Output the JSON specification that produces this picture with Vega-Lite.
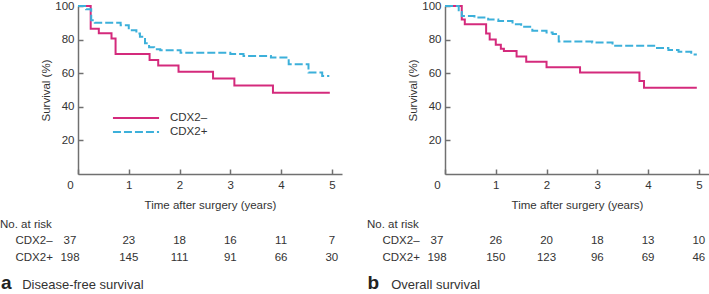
{
  "$schema": "https://vega.github.io/schema/vega-lite/v6.json",
  "padding": 0,
  "background": "white",
  "datasets": {
    "dfs": [
      {"group": "CDX2–", "t": 0, "s": 100}, {"group": "CDX2–", "t": 0.25, "s": 86.5}, {"group": "CDX2–", "t": 0.41, "s": 83.8},
      {"group": "CDX2–", "t": 0.66, "s": 80.6}, {"group": "CDX2–", "t": 0.74, "s": 71.5}, {"group": "CDX2–", "t": 1.41, "s": 67.8},
      {"group": "CDX2–", "t": 1.58, "s": 64.6}, {"group": "CDX2–", "t": 1.98, "s": 60.8}, {"group": "CDX2–", "t": 2.66, "s": 56.8},
      {"group": "CDX2–", "t": 3.08, "s": 52.7}, {"group": "CDX2–", "t": 3.84, "s": 48.4}, {"group": "CDX2–", "t": 4.96, "s": 48.4},
      {"group": "CDX2+", "t": 0, "s": 100}, {"group": "CDX2+", "t": 0.16, "s": 98}, {"group": "CDX2+", "t": 0.26, "s": 91.5},
      {"group": "CDX2+", "t": 0.33, "s": 90}, {"group": "CDX2+", "t": 0.84, "s": 88.6}, {"group": "CDX2+", "t": 1.0, "s": 85.6},
      {"group": "CDX2+", "t": 1.15, "s": 83.6}, {"group": "CDX2+", "t": 1.22, "s": 81.7}, {"group": "CDX2+", "t": 1.32, "s": 77.8},
      {"group": "CDX2+", "t": 1.4, "s": 75.5}, {"group": "CDX2+", "t": 1.5, "s": 74.3}, {"group": "CDX2+", "t": 1.62, "s": 73.6},
      {"group": "CDX2+", "t": 2.02, "s": 72.2}, {"group": "CDX2+", "t": 3.0, "s": 71.5}, {"group": "CDX2+", "t": 3.26, "s": 70.3},
      {"group": "CDX2+", "t": 3.8, "s": 69.3}, {"group": "CDX2+", "t": 4.15, "s": 65.3}, {"group": "CDX2+", "t": 4.54, "s": 60.4},
      {"group": "CDX2+", "t": 4.81, "s": 58.4}, {"group": "CDX2+", "t": 4.95, "s": 58.4}
    ],
    "os": [
      {"group": "CDX2–", "t": 0, "s": 100}, {"group": "CDX2–", "t": 0.33, "s": 91.9}, {"group": "CDX2–", "t": 0.39, "s": 89.2},
      {"group": "CDX2–", "t": 0.81, "s": 83.6}, {"group": "CDX2–", "t": 0.88, "s": 80.1}, {"group": "CDX2–", "t": 1.0, "s": 77.0},
      {"group": "CDX2–", "t": 1.1, "s": 74.6}, {"group": "CDX2–", "t": 1.16, "s": 73.2}, {"group": "CDX2–", "t": 1.41, "s": 70.0},
      {"group": "CDX2–", "t": 1.6, "s": 66.8}, {"group": "CDX2–", "t": 2.0, "s": 63.5}, {"group": "CDX2–", "t": 2.66, "s": 60.4},
      {"group": "CDX2–", "t": 3.83, "s": 55.4}, {"group": "CDX2–", "t": 3.92, "s": 51.3}, {"group": "CDX2–", "t": 4.96, "s": 51.3},
      {"group": "CDX2+", "t": 0, "s": 100}, {"group": "CDX2+", "t": 0.27, "s": 96.4}, {"group": "CDX2+", "t": 0.33, "s": 94},
      {"group": "CDX2+", "t": 0.58, "s": 93.1}, {"group": "CDX2+", "t": 0.85, "s": 92}, {"group": "CDX2+", "t": 1.05, "s": 91.1},
      {"group": "CDX2+", "t": 1.33, "s": 89.2}, {"group": "CDX2+", "t": 1.5, "s": 87.6}, {"group": "CDX2+", "t": 1.72, "s": 85.2},
      {"group": "CDX2+", "t": 2.0, "s": 84.3}, {"group": "CDX2+", "t": 2.12, "s": 83.3}, {"group": "CDX2+", "t": 2.24, "s": 78.8},
      {"group": "CDX2+", "t": 2.9, "s": 78.3}, {"group": "CDX2+", "t": 3.3, "s": 76.3}, {"group": "CDX2+", "t": 4.15, "s": 75.0},
      {"group": "CDX2+", "t": 4.4, "s": 73.8}, {"group": "CDX2+", "t": 4.6, "s": 72.8}, {"group": "CDX2+", "t": 4.85, "s": 71.2},
      {"group": "CDX2+", "t": 4.96, "s": 71.2}
    ],
    "riskA": [
      {"group": "CDX2–", "time": 0, "n": 37}, {"group": "CDX2–", "time": 1, "n": 23}, {"group": "CDX2–", "time": 2, "n": 18},
      {"group": "CDX2–", "time": 3, "n": 16}, {"group": "CDX2–", "time": 4, "n": 11}, {"group": "CDX2–", "time": 5, "n": 7},
      {"group": "CDX2+", "time": 0, "n": 198}, {"group": "CDX2+", "time": 1, "n": 145}, {"group": "CDX2+", "time": 2, "n": 111},
      {"group": "CDX2+", "time": 3, "n": 91}, {"group": "CDX2+", "time": 4, "n": 66}, {"group": "CDX2+", "time": 5, "n": 30}
    ],
    "riskB": [
      {"group": "CDX2–", "time": 0, "n": 37}, {"group": "CDX2–", "time": 1, "n": 26}, {"group": "CDX2–", "time": 2, "n": 20},
      {"group": "CDX2–", "time": 3, "n": 18}, {"group": "CDX2–", "time": 4, "n": 13}, {"group": "CDX2–", "time": 5, "n": 10},
      {"group": "CDX2+", "time": 0, "n": 198}, {"group": "CDX2+", "time": 1, "n": 150}, {"group": "CDX2+", "time": 2, "n": 123},
      {"group": "CDX2+", "time": 3, "n": 96}, {"group": "CDX2+", "time": 4, "n": 69}, {"group": "CDX2+", "time": 5, "n": 46}
    ]
  },
  "config": {
    "font": "Liberation Sans",
    "view": {"stroke": null},
    "axis": {
      "grid": false, "domainColor": "#707070", "domainWidth": 1.5, "tickColor": "#707070", "tickWidth": 1.5,
      "tickSize": -5, "labelColor": "#333333", "labelFontSize": 11.5, "titleColor": "#333333", "titleFontSize": 11.5,
      "titleFontWeight": "normal", "labelFlush": false, "labelOverlap": false
    },
    "title": {"fontWeight": "normal", "fontSize": 11.5, "color": "#333333"}
  },
  "resolve": {"scale": {"color": "independent", "strokeDash": "independent"}, "legend": {"color": "independent", "strokeDash": "independent"}},
  "spacing": 25,
  "hconcat": [
    {
      "spacing": 8,
      "resolve": {"scale": {"color": "independent", "strokeDash": "independent"}, "legend": {"color": "independent", "strokeDash": "independent"}},
      "vconcat": [
        {
          "width": 264, "height": 168,
          "data": {"name": "dfs"},
          "mark": {"type": "line", "interpolate": "step-after", "strokeWidth": 2},
          "encoding": {
            "x": {"field": "t", "type": "quantitative", "scale": {"domain": [0, 5.2], "nice": false},
                  "axis": {"values": [0, 1, 2, 3, 4, 5], "title": "Time after surgery (years)", "labelPadding": 10.5, "titlePadding": 8.5,
                           "labelOffset": {"condition": {"test": "datum.value === 0", "value": -8}, "value": 0}}},
            "y": {"field": "s", "type": "quantitative", "scale": {"domain": [0, 100], "nice": false},
                  "axis": {"values": [20, 40, 60, 80, 100], "title": "Survival (%)", "labelPadding": 9, "titlePadding": 3}},
            "color": {"field": "group", "type": "nominal", "title": null,
                      "scale": {"domain": ["CDX2–", "CDX2+"], "range": ["#d42a7c", "#3cb0da"]},
                      "legend": {"orient": "none", "legendX": 52, "legendY": 106, "padding": 0, "symbolType": "M-5,0H5", "symbolSize": 85,
                                 "symbolStrokeWidth": 2, "labelOffset": 28, "labelFontSize": 11.5, "labelColor": "#333333", "rowPadding": 2}},
            "strokeDash": {"field": "group", "type": "nominal", "title": null,
                      "scale": {"domain": ["CDX2–", "CDX2+"], "range": [[1, 0], [8, 3]]},
                      "legend": {"orient": "none", "legendX": 52, "legendY": 106, "padding": 0, "symbolType": "M-5,0H5", "symbolSize": 85,
                                 "symbolStrokeWidth": 2, "labelOffset": 28, "labelFontSize": 11.5, "labelColor": "#333333", "rowPadding": 2}}
          }
        },
        {
          "width": 264, "height": {"step": 17.3},
          "title": {"text": "No. at risk", "anchor": "start", "frame": "group", "dx": -78, "offset": 1.5},
          "data": {"name": "riskA"},
          "mark": {"type": "text", "fontSize": 11.5, "color": "#333333", "dx": {"expr": "datum.time === 0 ? -8 : 0"}},
          "encoding": {
            "x": {"field": "time", "type": "quantitative", "scale": {"domain": [0, 5.2], "nice": false},
                  "axis": {"labels": false, "ticks": false, "domain": false, "title": "Disease-free survival",
                           "titleX": -56.3, "titleY": 21.8, "titleAlign": "left", "titleBaseline": "alphabetic",
                           "titleFontSize": 13, "titleColor": "#333333"}},
            "y": {"field": "group", "type": "nominal", "sort": ["CDX2–", "CDX2+"],
                  "axis": {"domain": false, "ticks": false, "labelAlign": "left", "labelPadding": 63,
                           "title": "a", "titleAngle": 0, "titleX": -77.6, "titleY": 56.6, "titleAlign": "left", "titleBaseline": "alphabetic",
                           "titleFontSize": 19, "titleFontWeight": "bold", "titleColor": "#222222"}},
            "text": {"field": "n", "type": "quantitative"}
          }
        }
      ]
    },
    {
      "spacing": 8,
      "resolve": {"scale": {"color": "independent", "strokeDash": "independent"}, "legend": {"color": "independent", "strokeDash": "independent"}},
      "vconcat": [
        {
          "width": 264, "height": 168,
          "data": {"name": "os"},
          "mark": {"type": "line", "interpolate": "step-after", "strokeWidth": 2},
          "encoding": {
            "x": {"field": "t", "type": "quantitative", "scale": {"domain": [0, 5.2], "nice": false},
                  "axis": {"values": [0, 1, 2, 3, 4, 5], "title": "Time after surgery (years)", "labelPadding": 10.5, "titlePadding": 8.5,
                           "labelOffset": {"condition": {"test": "datum.value === 0", "value": -8}, "value": 0}}},
            "y": {"field": "s", "type": "quantitative", "scale": {"domain": [0, 100], "nice": false},
                  "axis": {"values": [20, 40, 60, 80, 100], "title": "Survival (%)", "labelPadding": 9, "titlePadding": 3}},
            "color": {"field": "group", "type": "nominal", "legend": null,
                      "scale": {"domain": ["CDX2–", "CDX2+"], "range": ["#d42a7c", "#3cb0da"]}},
            "strokeDash": {"field": "group", "type": "nominal", "legend": null,
                      "scale": {"domain": ["CDX2–", "CDX2+"], "range": [[1, 0], [8, 3]]}}
          }
        },
        {
          "width": 264, "height": {"step": 17.3},
          "title": {"text": "No. at risk", "anchor": "start", "frame": "group", "dx": -78, "offset": 1.5},
          "data": {"name": "riskB"},
          "mark": {"type": "text", "fontSize": 11.5, "color": "#333333", "dx": {"expr": "datum.time === 0 ? -8 : 0"}},
          "encoding": {
            "x": {"field": "time", "type": "quantitative", "scale": {"domain": [0, 5.2], "nice": false},
                  "axis": {"labels": false, "ticks": false, "domain": false, "title": "Overall survival",
                           "titleX": -54.3, "titleY": 21.8, "titleAlign": "left", "titleBaseline": "alphabetic",
                           "titleFontSize": 13, "titleColor": "#333333"}},
            "y": {"field": "group", "type": "nominal", "sort": ["CDX2–", "CDX2+"],
                  "axis": {"domain": false, "ticks": false, "labelAlign": "left", "labelPadding": 63,
                           "title": "b", "titleAngle": 0, "titleX": -78, "titleY": 56.6, "titleAlign": "left", "titleBaseline": "alphabetic",
                           "titleFontSize": 19, "titleFontWeight": "bold", "titleColor": "#222222"}},
            "text": {"field": "n", "type": "quantitative"}
          }
        }
      ]
    }
  ]
}
